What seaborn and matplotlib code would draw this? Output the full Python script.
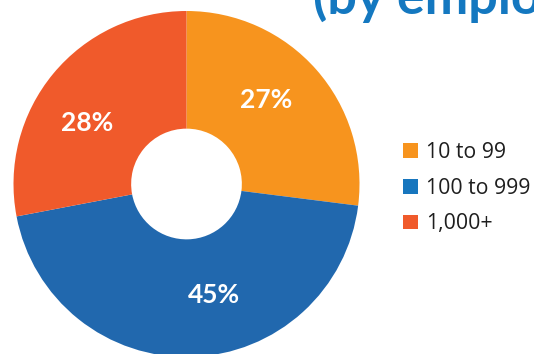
import matplotlib
matplotlib.use("Agg")
import matplotlib.pyplot as plt
from matplotlib.patches import Patch
import seaborn as sns

# Share of companies by employee count
categories = ["10 to 99", "100 to 999", "1,000+"]
shares = [27, 45, 28]
pct_labels = ["27%", "45%", "28%"]

wedge_colors = ["#F7941E", "#2168AE", "#F05A2B"]
legend_colors = ["#F7941E", "#1776BE", "#F05A2B"]
title_color = "#1478C0"

sns.set_theme(style="white")
plt.rcParams["font.family"] = ["Lato", "DejaVu Sans"]

W, H, DPI = 534, 354, 100
fig = plt.figure(figsize=(W / DPI, H / DPI), dpi=DPI)
ax = fig.add_axes([0, 0, 1, 1])

wedges, _ = ax.pie(
    shares,
    colors=wedge_colors,
    startangle=90,
    counterclock=False,
    radius=1.0,
    wedgeprops=dict(width=0.68, edgecolor="none", linewidth=0),
)

# pixel-style framing: ring centred near (186.5, 184) from the top-left, radius 173 px
scale = 173.0
cx, cy = 186.5, 184.0
ax.set_xlim(-cx / scale, (W - cx) / scale)
ax.set_ylim(-(H - cy) / scale, cy / scale)
ax.set_aspect("auto")
ax.axis("off")

label_pos = [(0.462, 0.485), (0.159, -0.641), (-0.572, 0.355)]
for txt, (x, y) in zip(pct_labels, label_pos):
    ax.text(x, y, txt, ha="center", va="center", color="white",
            fontsize=19, fontweight="bold")

handles = [Patch(facecolor=c, edgecolor="none") for c in legend_colors]
leg = fig.legend(
    handles, categories,
    loc="center left",
    bbox_to_anchor=(403 / W, 1 - 188 / H),
    frameon=False,
    prop={"family": ["Open Sans", "DejaVu Sans"], "size": 15.3},
    handlelength=0.7,
    handleheight=0.7,
    handletextpad=0.4,
    labelspacing=0.7,
    borderpad=0,
    borderaxespad=0,
)
for t in leg.get_texts():
    t.set_color("#1e1e1e")

fig.text(313 / W, 1 - 14 / H, "(by employee size)", color=title_color,
         fontsize=37.5, fontweight="bold", ha="left", va="baseline")

fig.savefig("out.png", dpi=DPI)
